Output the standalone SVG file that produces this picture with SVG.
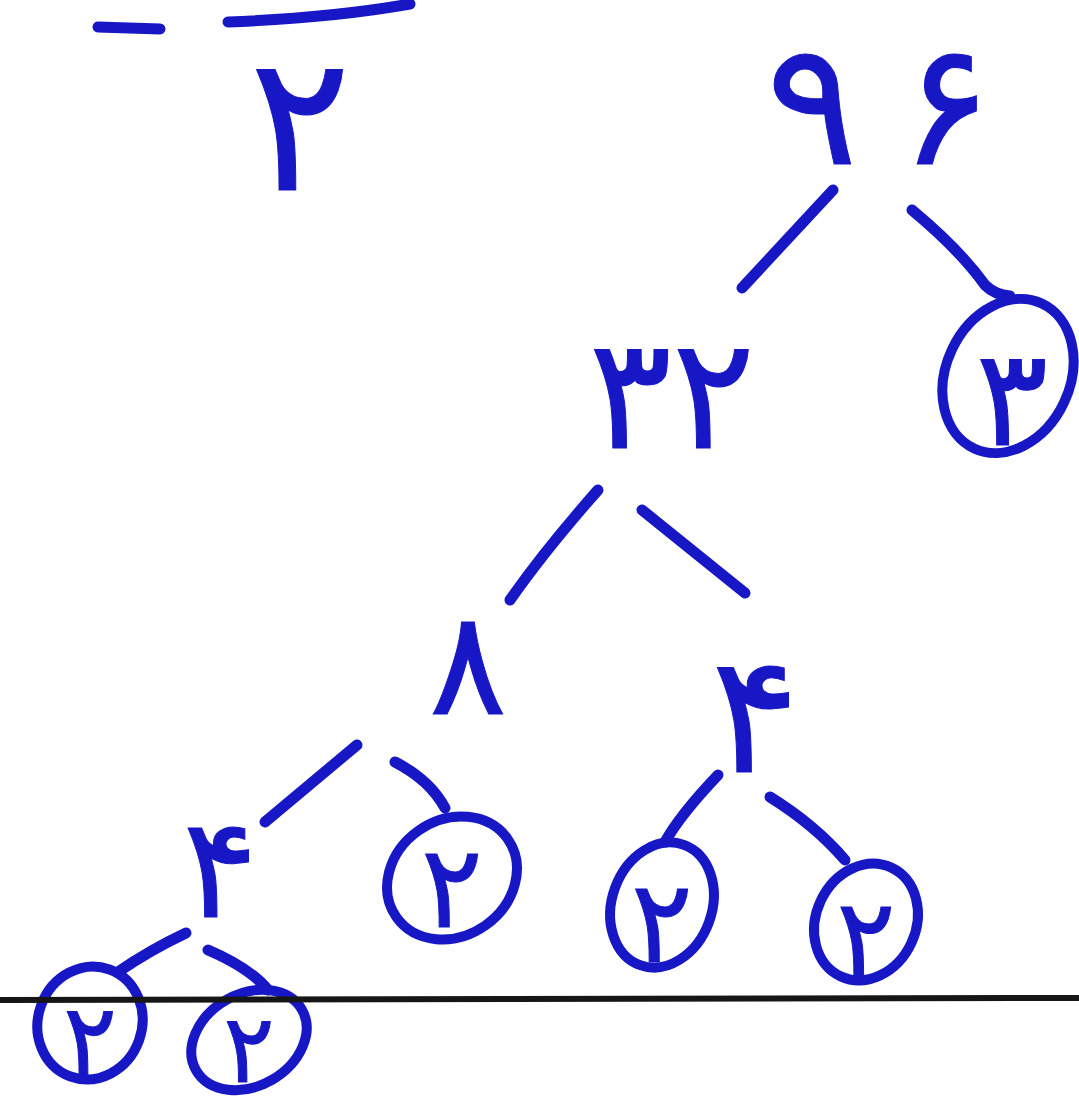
<svg xmlns="http://www.w3.org/2000/svg" width="1079" height="1103" viewBox="0 0 1079 1103">
<style>
.d{font-family:"DejaVu Sans","Noto Sans",sans-serif;fill:#1717c6;stroke:#1717c6;stroke-width:1;text-anchor:middle}
.c{fill:none;stroke:#1717c6;stroke-width:11;stroke-linecap:round}
.e{fill:none;stroke:#1717c6;stroke-width:10}
</style>
<rect width="1079" height="1103" fill="#ffffff"/>
<g id="fraction">
<path class="c" d="M98 27 L160 29"/>
<path class="c" d="M228 22 Q330 18 410 4"/>
<text class="d" x="300" y="190" font-size="190">۲</text>
</g>
<g id="connectors">
<path class="c" d="M833 190 L742 288"/>
<path class="c" d="M912 210 Q960 250 985 285 Q995 295 1010 296"/>
<path class="c" d="M598 490 Q545 550 510 600"/>
<path class="c" d="M642 510 L745 593"/>
<path class="c" d="M357 745 L265 822"/>
<path class="c" d="M395 762 Q430 780 445 808"/>
<path class="c" d="M718 775 Q680 815 665 842"/>
<path class="c" d="M770 797 Q815 825 845 860"/>
<path class="c" d="M186 933 Q150 950 118 972"/>
<path class="c" d="M208 950 Q250 968 268 990"/>
</g>
<g id="n96"><text class="d" font-size="172" y="164"><tspan x="812">۹</tspan><tspan x="946">۶</tspan></text></g>
<g id="n3"><ellipse class="e" cx="1008" cy="376" rx="62" ry="80" transform="rotate(25 1008 376)"/><text class="d" x="1012" y="445" font-size="135">۳</text></g>
<g id="n32"><text class="d" x="672" y="448" font-size="155">۳۲</text></g>
<g id="n8"><text class="d" x="468" y="714" font-size="145">۸</text></g>
<g id="n4a"><text class="d" x="755" y="772" font-size="165">۴</text></g>
<g id="n4b"><text class="d" x="220" y="917" font-size="140">۴</text></g>
<g id="n2a"><ellipse class="e" cx="452" cy="878" rx="68" ry="58" transform="rotate(-35 452 878)"/><text class="d" x="452" y="927" font-size="115">۲</text></g>
<g id="n2b"><ellipse class="e" cx="662" cy="905" rx="50" ry="64" transform="rotate(20 662 905)"/><text class="d" x="662" y="962" font-size="115">۲</text></g>
<g id="n2c"><ellipse class="e" cx="866" cy="922" rx="50" ry="60" transform="rotate(25 866 922)"/><text class="d" x="866" y="977" font-size="110">۲</text></g>
<g id="n2d"><ellipse class="e" cx="90" cy="1023" rx="52" ry="57" transform="rotate(20 90 1023)"/><text class="d" x="90" y="1075" font-size="100">۲</text></g>
<g id="n2e"><ellipse class="e" cx="249" cy="1040" rx="61" ry="46" transform="rotate(-30 249 1040)"/><text class="d" x="249" y="1082" font-size="95">۲</text></g>
<path d="M0 1000 L1079 998" stroke="#161616" stroke-width="6" fill="none"/>
</svg>
